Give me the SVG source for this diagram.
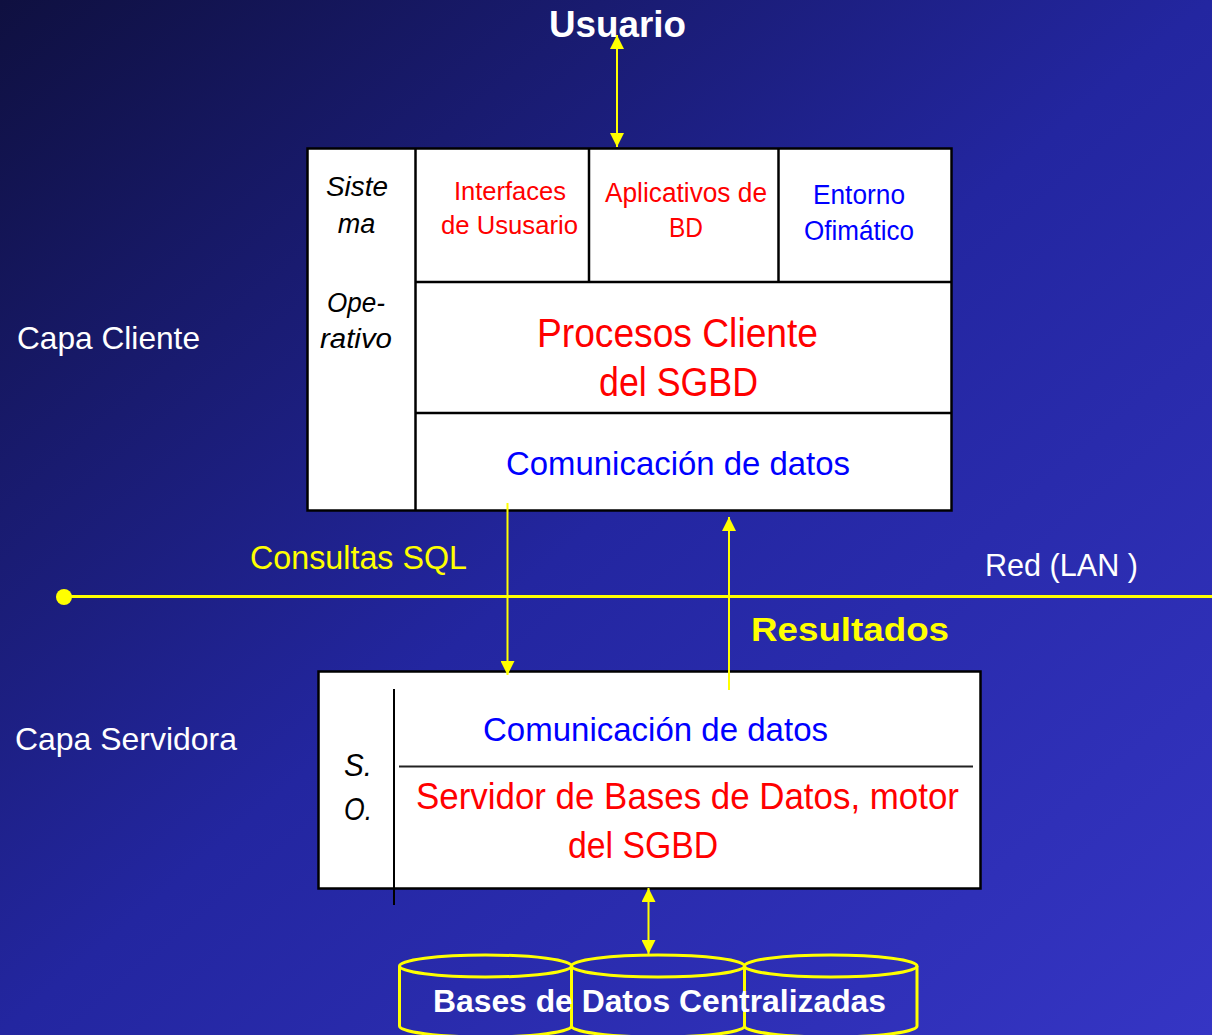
<svg xmlns="http://www.w3.org/2000/svg" width="1212" height="1035" viewBox="0 0 1212 1035">
<defs>
<linearGradient id="bg" x1="0" y1="0" x2="1" y2="1">
<stop offset="0" stop-color="#0f1040"/>
<stop offset="0.5" stop-color="#2326a0"/>
<stop offset="1" stop-color="#3535c4"/>
</linearGradient>
<marker id="ah" viewBox="0 0 14 14" refX="14" refY="7" markerWidth="14" markerHeight="14" markerUnits="userSpaceOnUse" orient="auto-start-reverse">
<path d="M0,0 L14,7 L0,14 z" fill="#ffff00"/>
</marker>
<style>
text{font-family:"Liberation Sans",Arial,sans-serif}
.it{font-style:italic;fill:#000;font-size:27px;text-anchor:middle}
.so{font-style:italic;fill:#000;font-size:31px}
.red{fill:#ff0000}
.blue{fill:#0000ff}
.wht{fill:#ffffff}
.yel{fill:#ffff00}
.b{font-weight:bold}
.mid{text-anchor:middle}
.box{fill:#ffffff;stroke:#000;stroke-width:2.5}
.ln{stroke:#000;stroke-width:2.5;fill:none}
.con{stroke:#ffff00;stroke-width:2;fill:none}
.cyl{stroke:#ffff00;stroke-width:3;fill:none}
</style>
</defs>
<rect x="0" y="0" width="1212" height="1035" fill="url(#bg)"/>

<g id="labels">
<text class="wht" x="17" y="349" font-size="32" textLength="183" lengthAdjust="spacingAndGlyphs">Capa Cliente</text>
<text class="wht" x="15" y="750" font-size="32" textLength="222" lengthAdjust="spacingAndGlyphs">Capa Servidora</text>
<text class="yel" x="250" y="569" font-size="33" textLength="217" lengthAdjust="spacingAndGlyphs">Consultas SQL</text>
<text class="wht" x="985" y="576" font-size="32" textLength="153" lengthAdjust="spacingAndGlyphs">Red (LAN )</text>
<text class="yel b" x="751" y="641" font-size="34" textLength="198" lengthAdjust="spacingAndGlyphs">Resultados</text>
</g>

<g id="usuario">
<text class="wht b mid" x="617.5" y="37" font-size="36" textLength="137" lengthAdjust="spacingAndGlyphs">Usuario</text>
</g>

<g id="cliente">
<rect class="box" x="307.5" y="148.5" width="644" height="362"/>
<line class="ln" x1="415.5" y1="148.5" x2="415.5" y2="510.5"/>
<line class="ln" x1="415.5" y1="282" x2="951.5" y2="282"/>
<line class="ln" x1="589" y1="148.5" x2="589" y2="282"/>
<line class="ln" x1="778.5" y1="148.5" x2="778.5" y2="282"/>
<line class="ln" x1="415.5" y1="413" x2="951.5" y2="413"/>
<text class="it" x="357" y="196" textLength="62" lengthAdjust="spacingAndGlyphs">Siste</text>
<text class="it" x="356.5" y="233">ma</text>
<text class="it" x="356" y="312" textLength="58" lengthAdjust="spacingAndGlyphs">Ope-</text>
<text class="it" x="356" y="348" textLength="72" lengthAdjust="spacingAndGlyphs">rativo</text>
<text class="red mid" x="510" y="200" font-size="26" textLength="112" lengthAdjust="spacingAndGlyphs">Interfaces</text>
<text class="red mid" x="509.5" y="234" font-size="26" textLength="137" lengthAdjust="spacingAndGlyphs">de Ususario</text>
<text class="red mid" x="686" y="202" font-size="27" textLength="162" lengthAdjust="spacingAndGlyphs">Aplicativos de</text>
<text class="red mid" x="686" y="237" font-size="27" textLength="34" lengthAdjust="spacingAndGlyphs">BD</text>
<text class="blue mid" x="859" y="204" font-size="27" textLength="92" lengthAdjust="spacingAndGlyphs">Entorno</text>
<text class="blue mid" x="859" y="240" font-size="27" textLength="110" lengthAdjust="spacingAndGlyphs">Ofimático</text>
<text class="red mid" x="677.5" y="347" font-size="40" textLength="281" lengthAdjust="spacingAndGlyphs">Procesos Cliente</text>
<text class="red mid" x="678.5" y="396" font-size="40" textLength="159" lengthAdjust="spacingAndGlyphs">del SGBD</text>
<text class="blue mid" x="678" y="475" font-size="34" textLength="344" lengthAdjust="spacingAndGlyphs">Comunicación de datos</text>
</g>

<g id="servidor">
<rect class="box" x="318.5" y="671.5" width="662" height="217"/>
<line x1="394" y1="689" x2="394" y2="905" stroke="#000" stroke-width="2"/>
<line x1="399" y1="766.5" x2="973" y2="766.5" stroke="#222" stroke-width="2"/>
<text class="so" x="344" y="776" textLength="28" lengthAdjust="spacingAndGlyphs">S.</text>
<text class="so" x="344" y="820" textLength="28" lengthAdjust="spacingAndGlyphs">O.</text>
<text class="blue mid" x="655.5" y="741" font-size="34" textLength="345" lengthAdjust="spacingAndGlyphs">Comunicación de datos</text>
<text class="red mid" x="687.5" y="809" font-size="36" textLength="543" lengthAdjust="spacingAndGlyphs">Servidor de Bases de Datos, motor</text>
<text class="red mid" x="643" y="858" font-size="36" textLength="150" lengthAdjust="spacingAndGlyphs">del SGBD</text>
</g>

<g id="bd1"><path class="cyl" d="M399.5,966 L399.5,1026 A86,11 0 0 0 571.5,1026 L571.5,966"/><ellipse class="cyl" cx="485.5" cy="966" rx="86" ry="11"/></g>
<g id="bd2"><path class="cyl" d="M571.5,966 L571.5,1026 A86.5,11 0 0 0 744.5,1026 L744.5,966"/><ellipse class="cyl" cx="658" cy="966" rx="86.5" ry="11"/></g>
<g id="bd3"><path class="cyl" d="M744.5,966 L744.5,1026 A86.25,11 0 0 0 917,1026 L917,966"/><ellipse class="cyl" cx="830.75" cy="966" rx="86.25" ry="11"/></g>
<g id="bd-label">
<text class="wht b" x="433" y="1012" font-size="31" textLength="453" lengthAdjust="spacingAndGlyphs">Bases de Datos Centralizadas</text>
</g>

<g id="connectors">
<line class="con" x1="617" y1="35" x2="617" y2="147" marker-start="url(#ah)" marker-end="url(#ah)"/>
<line class="con" x1="507.5" y1="503" x2="507.5" y2="675" marker-end="url(#ah)"/>
<line class="con" x1="729" y1="690" x2="729" y2="517" marker-end="url(#ah)"/>
<line x1="63" y1="596.5" x2="1212" y2="596.5" stroke="#ffff00" stroke-width="3"/>
<circle cx="64" cy="597" r="8" fill="#ffff00"/>
<line class="con" x1="648.5" y1="888" x2="648.5" y2="954" stroke-width="2.5" marker-start="url(#ah)" marker-end="url(#ah)"/>
</g>
</svg>
